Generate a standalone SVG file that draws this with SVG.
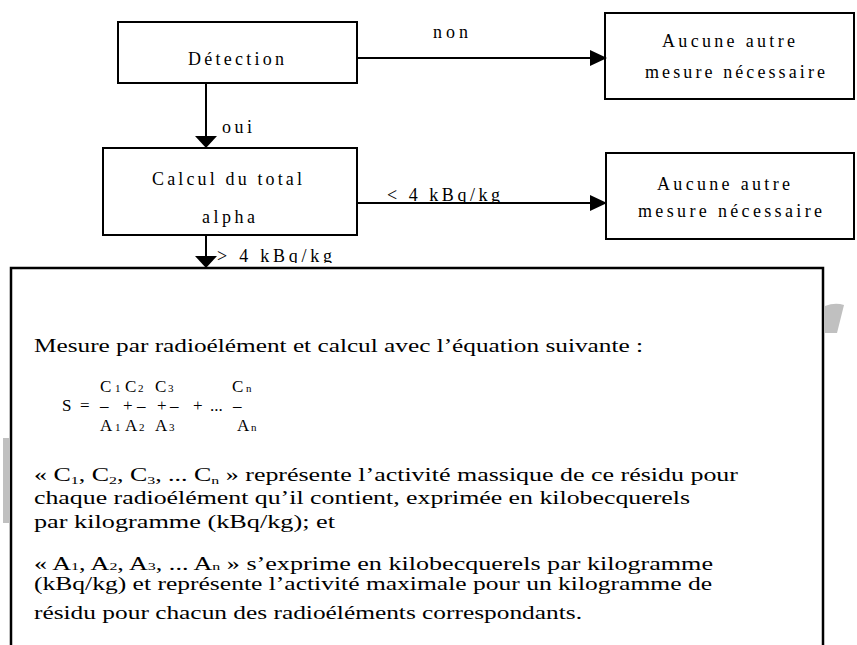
<svg xmlns="http://www.w3.org/2000/svg" width="857" height="645" viewBox="0 0 857 645">
<style>
.box{fill:#fff;stroke:#000;stroke-width:2}
.big{fill:#fff;stroke:#000;stroke-width:2.5}
.t{font-family:"Liberation Serif","Times New Roman",serif;font-size:18px;fill:#000}
.p{font-family:"Liberation Serif","Times New Roman",serif;font-size:18px;fill:#000}
.f{font-family:"Liberation Serif","Times New Roman",serif;font-size:17px;fill:#000}
.fs{font-size:11px}
.sub{font-size:11px}
.ln{stroke:#000;stroke-width:2;fill:none}
.ah{fill:#000}
.gray{fill:#c0c0c0}
</style>
<defs>
<clipPath id="c1"><rect x="380" y="180" width="130" height="22"/></clipPath>
<clipPath id="c2"><rect x="210" y="240" width="130" height="23"/></clipPath>
</defs>
<rect width="857" height="645" fill="#fff"/>
<path class="gray" d="M825,306 Q835,302 844,305 L837,333 L825,333 Z"/>
<rect class="gray" x="3" y="438" width="6" height="85"/>
<g id="detection">
<rect class="box" x="118" y="22" width="239" height="61"/>
<text class="t" x="188" y="65" textLength="96">Détection</text>
</g>
<g id="aucune1">
<rect class="box" x="605" y="13" width="249" height="86"/>
<text class="t" x="662" y="47" textLength="133">Aucune autre</text>
<text class="t" x="645" y="78" textLength="180">mesure nécessaire</text>
</g>
<g id="calcul">
<rect class="box" x="103" y="148" width="254" height="87"/>
<text class="t" x="152" y="185" textLength="150">Calcul du total</text>
<text class="t" x="202" y="223" textLength="53">alpha</text>
</g>
<g id="aucune2">
<rect class="box" x="606" y="153" width="248" height="86"/>
<text class="t" x="657" y="190" textLength="133">Aucune autre</text>
<text class="t" x="638" y="217" textLength="184">mesure nécessaire</text>
</g>
<g id="mesure">
<rect class="big" x="11" y="268" width="812" height="400"/>
<text class="p" x="34" y="352" textLength="609" lengthAdjust="spacingAndGlyphs">Mesure par radioélément et calcul avec l’équation suivante :</text>
<text class="f" y="392"><tspan x="100">C</tspan><tspan x="115" class="fs">1</tspan><tspan x="125">C</tspan><tspan x="138" class="fs">2</tspan><tspan x="155">C</tspan><tspan x="168" class="fs">3</tspan><tspan x="232">C</tspan><tspan x="246" class="fs">n</tspan></text>
<text class="f" y="411"><tspan x="62">S</tspan><tspan x="80">=</tspan><tspan x="100">–</tspan><tspan x="123">+</tspan><tspan x="137">–</tspan><tspan x="157">+</tspan><tspan x="170">–</tspan><tspan x="193">+</tspan><tspan x="210">...</tspan><tspan x="233">–</tspan></text>
<text class="f" y="431"><tspan x="100">A</tspan><tspan x="115" class="fs">1</tspan><tspan x="125">A</tspan><tspan x="139" class="fs">2</tspan><tspan x="155">A</tspan><tspan x="169" class="fs">3</tspan><tspan x="237">A</tspan><tspan x="251" class="fs">n</tspan></text>
<text class="p" x="34" y="481" textLength="704" lengthAdjust="spacingAndGlyphs">« C<tspan class="sub" dy="3">1</tspan><tspan dy="-3">, C</tspan><tspan class="sub" dy="3">2</tspan><tspan dy="-3">, C</tspan><tspan class="sub" dy="3">3</tspan><tspan dy="-3">, ... C</tspan><tspan class="sub" dy="3">n</tspan><tspan dy="-3"> » représente l’activité massique de ce résidu pour</tspan></text>
<text class="p" x="34" y="504" textLength="656" lengthAdjust="spacingAndGlyphs">chaque radioélément qu’il contient, exprimée en kilobecquerels</text>
<text class="p" x="34" y="528" textLength="301" lengthAdjust="spacingAndGlyphs">par kilogramme (kBq/kg); et</text>
<text class="p" x="34" y="570" textLength="679" lengthAdjust="spacingAndGlyphs">« A<tspan class="sub">1</tspan>, A<tspan class="sub">2</tspan>, A<tspan class="sub">3</tspan>, ... A<tspan class="sub">n</tspan> » s’exprime en kilobecquerels par kilogramme</text>
<text class="p" x="34" y="590" textLength="678" lengthAdjust="spacingAndGlyphs">(kBq/kg) et représente l’activité maximale pour un kilogramme  de</text>
<text class="p" x="34" y="619" textLength="548" lengthAdjust="spacingAndGlyphs">résidu pour chacun des radioéléments correspondants.</text>
</g>
<g id="connectors">
<line class="ln" x1="357" y1="58" x2="592" y2="58"/>
<polygon class="ah" points="607,58 590,50 590,66"/>
<text class="t" x="433" y="38" textLength="35">non</text>
<line class="ln" x1="206" y1="83" x2="206" y2="138"/>
<polygon class="ah" points="206,148 195,136 217,136"/>
<text class="t" x="222" y="133" textLength="30">oui</text>
<line class="ln" x1="357" y1="203" x2="592" y2="203"/>
<polygon class="ah" points="607,203 590,195 590,211"/>
<text class="t" x="387" y="201" textLength="113" clip-path="url(#c1)">&lt; 4 kBq/kg</text>
<line class="ln" x1="206" y1="235" x2="206" y2="258"/>
<polygon class="ah" points="206,268 195,256 217,256"/>
<text class="t" x="217" y="262" textLength="115" clip-path="url(#c2)">&gt; 4 kBq/kg</text>
</g>
</svg>
